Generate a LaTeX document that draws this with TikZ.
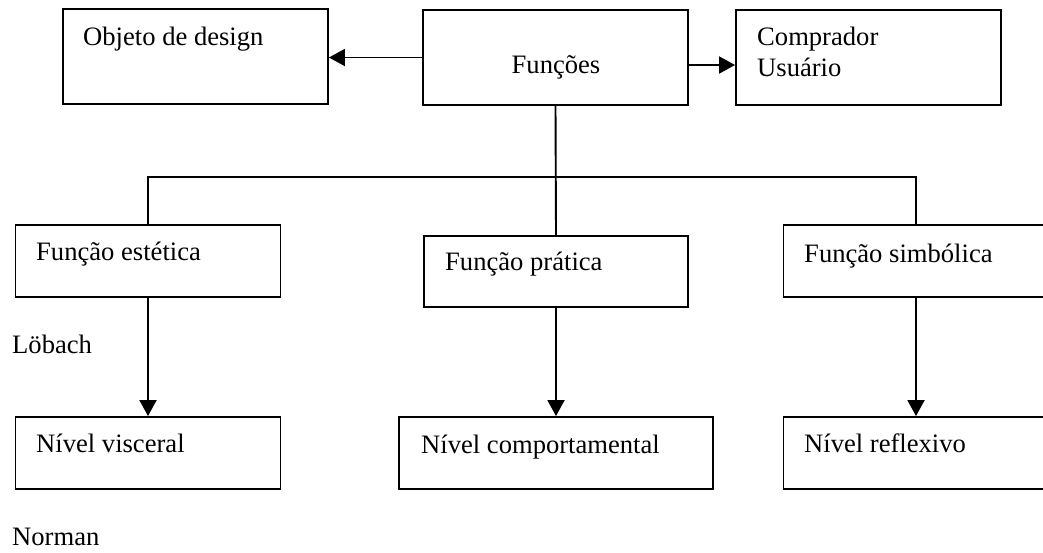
\documentclass[tikz,border=0pt]{standalone}
\usepackage{fontspec}
\setmainfont{Liberation Serif}
\usetikzlibrary{arrows.meta}

\tikzset{
  box/.style={draw, line width=1.9pt, rectangle, inner sep=0pt},
  conn/.style={line width=1.9pt},
  arr/.style={conn, -{Triangle[length=16pt, width=17pt]}},
  txt/.style={inner sep=0pt, anchor=base west, font=\fontsize{26.6}{31}\selectfont},
}

\begin{document}
\begin{tikzpicture}[x=1pt, y=-1pt]
  \useasboundingbox (0,0) rectangle (1043,552);

  % top row
  \node[box, minimum width=265pt, minimum height=95pt] (obj)  at (195.5,56.5) {};
  \node[box, minimum width=265pt, minimum height=95pt] (fun)  at (555.5,57.5) {};
  \node[box, minimum width=265pt, minimum height=95pt] (comp) at (868.5,57.5) {};

  % functions (Löbach)
  \node[box, minimum width=265pt, minimum height=72pt] (est)  at (148,261) {};
  \node[box, minimum width=264pt, minimum height=71pt] (prat) at (556,271.5) {};
  \node[box, minimum width=265pt, minimum height=72pt] (simb) at (916,261) {};

  % levels (Norman)
  \node[box, minimum width=265pt, minimum height=72pt] (visc) at (148,453) {};
  \node[box, minimum width=314pt, minimum height=72pt] (beh)  at (556,453) {};
  \node[box, minimum width=265pt, minimum height=72pt] (refl) at (916,453) {};

  % texts
  \node[txt] (tobj)  at (83,45)  {Objeto de design};
  \node[txt, anchor=base] (tfun) at (556,73) {Funções};
  \node[txt] (tcomp) at (757,45) {Comprador};
  \node[txt] (tusu)  at (757,76) {Usuário};
  \node[txt] (test)  at (36,260)  {Função estética};
  \node[txt] (tprat) at (445,270) {Função prática};
  \node[txt] (tsimb) at (804,262) {Função simbólica};
  \node[txt] (tlob)  at (12,353)  {Löbach};
  \node[txt] (tvisc) at (36,452)  {Nível visceral};
  \node[txt] (tbeh)  at (421,453) {Nível comportamental};
  \node[txt] (trefl) at (804,452) {Nível reflexivo};
  \node[txt] (tnor)  at (12,545)  {Norman};

  % connectors
  \coordinate (bar) at (556,177);
  \draw[arr] (fun.west) -- (fun.west -| obj.east);
  \draw[arr] ([yshift=-7.5pt]fun.east) -- ([yshift=-7.5pt]comp.west);
  \draw[conn] (fun.south) -- (prat.north);
  \draw[conn] (est.north) |- (bar) -| (simb.north);
  \draw[arr] (est.south) -- (visc.north);
  \draw[arr] (prat.south) -- (beh.north);
  \draw[arr] (simb.south) -- (refl.north);
\end{tikzpicture}
\end{document}
